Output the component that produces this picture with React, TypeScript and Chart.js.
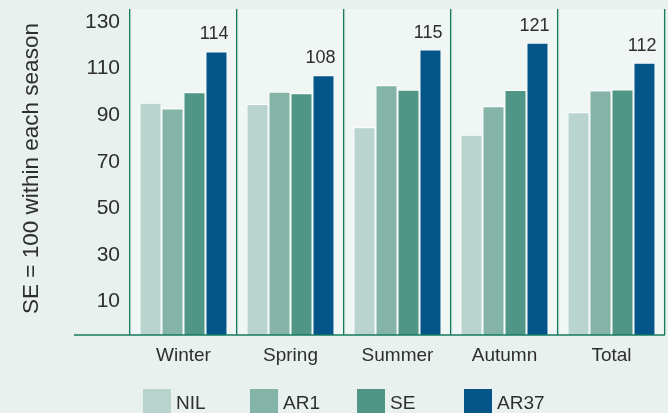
import React, { useEffect, useRef } from "react";
import { Chart, registerables } from "chart.js";

Chart.register(...registerables);

const categories = ["Winter", "Spring", "Summer", "Autumn", "Total"];
const seriesNames = ["NIL", "AR1", "SE", "AR37"];
const nilValues = [95.4, 94.8, 84.9, 81.6, 91.3];
const ar1Values = [92.9, 100.1, 102.9, 93.9, 100.6];
const seValues = [99.9, 99.4, 100.9, 100.8, 101.1];
const ar37Values = [117.4, 107.2, 118.2, 121.1, 112.5];
const ar37Labels = ["114", "108", "115", "121", "112"];
const yTickValues = [10, 30, 50, 70, 90, 110, 130];
const yTitle = "SE = 100 within each season";
const yMin = -4.3;
const yMax = 135.6;

const colors = ["#b9d4cf", "#84b4a8", "#4f9686", "#03558a"];
const BG = "#e9f1ef";
const PANEL = "#f0f6f4";
const LINE = "#157a5e";
const TEXT = "#2e2e2e";
const FONT = "'Liberation Sans', Arial, Helvetica, sans-serif";

const decorPlugin = {
  id: "decor",
  beforeDraw(chart: any) {
    const { ctx, chartArea, scales } = chart;
    const x = scales.x;
    ctx.save();
    ctx.fillStyle = BG;
    ctx.fillRect(0, 0, chart.width, chart.height);
    const step = x.getPixelForValue(1) - x.getPixelForValue(0);
    ctx.fillStyle = PANEL;
    categories.forEach((_, i) => {
      const c = x.getPixelForValue(i);
      ctx.fillRect(c - step / 2 + 2, chartArea.top, step - 4, chartArea.bottom - chartArea.top - 1);
    });
    ctx.restore();
  },
  afterDatasetsDraw(chart: any) {
    const { ctx, chartArea, scales } = chart;
    const x = scales.x;
    ctx.save();
    // bottom axis line extended to the left
    ctx.strokeStyle = LINE;
    ctx.lineWidth = 1.3;
    ctx.beginPath();
    ctx.moveTo(74, chartArea.bottom);
    ctx.lineTo(chartArea.right, chartArea.bottom);
    ctx.stroke();
    // y axis title
    ctx.fillStyle = TEXT;
    ctx.font = `22.5px ${FONT}`;
    ctx.textAlign = "center";
    ctx.textBaseline = "middle";
    ctx.save();
    ctx.translate(32, (chartArea.top + chartArea.bottom) / 2 - 3.5);
    ctx.rotate(-Math.PI / 2);
    ctx.fillText(yTitle, 0, 0);
    ctx.restore();
    // data labels on AR37
    const meta = chart.getDatasetMeta(3);
    ctx.font = `18px ${FONT}`;
    ctx.textAlign = "right";
    ctx.textBaseline = "middle";
    meta.data.forEach((bar: any, i: number) => {
      ctx.fillText(ar37Labels[i], bar.x + bar.width / 2 + 1, bar.y - 17);
    });
    // legend
    const step = x.getPixelForValue(1) - x.getPixelForValue(0);
    ctx.font = `19px ${FONT}`;
    ctx.textAlign = "left";
    ctx.textBaseline = "alphabetic";
    seriesNames.forEach((name, i) => {
      const left = x.getPixelForValue(i) - step / 2 + 13;
      ctx.fillStyle = colors[i];
      ctx.fillRect(left, 389, 28, 26);
      ctx.fillStyle = TEXT;
      ctx.fillText(name, left + 33, 409);
    });
    ctx.restore();
  },
};

export default function App() {
  const ref = useRef<HTMLCanvasElement | null>(null);
  useEffect(() => {
    if (!ref.current) return;
    const values = [nilValues, ar1Values, seValues, ar37Values];
    const chart = new Chart(ref.current, {
      type: "bar",
      data: {
        labels: categories,
        datasets: seriesNames.map((name, i) => ({
          label: name,
          data: values[i],
          backgroundColor: colors[i],
          borderColor: "#ffffff",
          borderWidth: 1,
          base: yMin,
          categoryPercentage: 0.822,
          barPercentage: 1,
        })),
      },
      options: {
        responsive: false,
        animation: false,
        layout: { padding: { top: 9, right: 3, left: 0, bottom: 0 } },
        plugins: {
          legend: { display: false },
          tooltip: { enabled: false },
        },
        scales: {
          x: {
            grid: {
              display: true,
              offset: true,
              drawTicks: false,
              color: LINE,
              lineWidth: 1.3,
            },
            border: { display: false },
            ticks: {
              color: TEXT,
              font: { family: FONT, size: 19 },
              padding: 9,
            },
            afterFit(scale: any) {
              scale.height = 78;
              scale.paddingLeft = 0;
              scale.paddingRight = 0;
            },
          },
          y: {
            min: yMin,
            max: yMax,
            grid: { display: false, drawTicks: false },
            border: { display: false },
            afterBuildTicks(scale: any) {
              scale.ticks = yTickValues.map((v) => ({ value: v }));
            },
            ticks: {
              color: TEXT,
              font: { family: FONT, size: 21 },
              padding: 10,
            },
            afterFit(scale: any) {
              scale.width = 130;
              scale.paddingTop = 0;
              scale.paddingBottom = 0;
            },
          },
        },
      },
      plugins: [decorPlugin],
    });
    return () => chart.destroy();
  }, []);
  return (
    <div style={{ position: "fixed", left: 0, top: 0, width: 668, height: 413, background: BG }}>
      <canvas ref={ref} width={668} height={413} style={{ display: "block" }} />
    </div>
  );
}
